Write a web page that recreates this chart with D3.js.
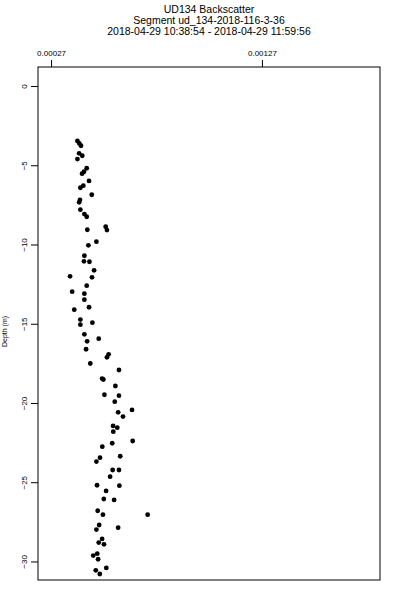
<!DOCTYPE html>
<html>
<head>
<meta charset="utf-8">
<script src="https://cdn.jsdelivr.net/npm/d3@7"></script>
<style>
  body { margin: 0; background: #fff; }
  svg { display: block; font-family: "Liberation Sans", Arial, Helvetica, sans-serif; }
</style>
</head>
<body>
<svg id="chart"></svg>
<script>
// backscatter value per sample
const backscatter = [
  0.000395, 0.000404, 0.000412, 0.000403, 0.000418, 0.000395, 0.000439, 0.000426,
  0.000417, 0.000450, 0.000423, 0.000409, 0.000463, 0.000407, 0.000403, 0.000409,
  0.000428, 0.000439, 0.000529, 0.000535, 0.000442, 0.000485, 0.000447, 0.000428,
  0.000426, 0.000452, 0.000474, 0.000360, 0.000464, 0.000439, 0.000370, 0.000428,
  0.000428, 0.000450, 0.000380, 0.000409, 0.000409, 0.000466, 0.000428, 0.000496,
  0.000441, 0.000436, 0.000543, 0.000535, 0.000456, 0.000592, 0.000512, 0.000518,
  0.000575, 0.000523, 0.000592, 0.000572, 0.000654, 0.000588, 0.000611, 0.000564,
  0.000584, 0.000565, 0.000657, 0.000560, 0.000513, 0.000598, 0.000502, 0.000485,
  0.000562, 0.000592, 0.000550, 0.000488, 0.000594, 0.000531, 0.000520, 0.000569,
  0.000491, 0.000516, 0.000728, 0.000498, 0.000485, 0.000588, 0.000512, 0.000496,
  0.000521, 0.000489, 0.000470, 0.000493, 0.000482, 0.000532, 0.000501
];
// depth (m) per sample
const depth = [
  -3.47, -3.62, -3.77, -4.25, -4.40, -4.61, -5.19, -5.41,
  -5.53, -5.99, -6.29, -6.42, -6.86, -7.19, -7.34, -7.80,
  -8.08, -8.25, -8.88, -9.09, -9.07, -9.82, -10.05, -10.71,
  -11.06, -11.09, -11.63, -12.01, -12.07, -12.60, -12.98, -13.10,
  -13.48, -13.96, -14.11, -14.74, -15.06, -14.93, -15.67, -15.94,
  -16.11, -16.61, -16.93, -17.12, -17.51, -17.92, -18.46, -18.52,
  -18.93, -19.48, -19.54, -19.92, -20.44, -20.59, -20.86, -21.45,
  -21.56, -21.81, -22.40, -22.54, -22.76, -23.36, -23.45, -23.70,
  -24.23, -24.23, -24.65, -25.19, -25.22, -25.55, -26.06, -26.12,
  -26.80, -27.05, -27.05, -27.70, -27.99, -27.87, -28.58, -28.81,
  -28.92, -29.51, -29.63, -29.86, -30.56, -30.41, -30.79
];
const xTicks = [0.00027, 0.00127];
const xTickLabels = ["0.00027", "0.00127"];
const yTicks = [0, -5, -10, -15, -20, -25, -30];
const titleLines = [
  "UD134 Backscatter",
  "Segment ud_134-2018-116-3-36",
  "2018-04-29 10:38:54 - 2018-04-29 11:59:56"
];

const width = 400, height = 600;
const margin = {top: 67, right: 20, bottom: 20, left: 38};
const svg = d3.select("#chart").attr("width", width).attr("height", height);

const x = d3.scaleLinear()
  .domain([0.000208, 0.00183])
  .range([margin.left, width - margin.right]);
const y = d3.scaleLinear()
  .domain([1.2, -31.17])
  .range([margin.top, height - margin.bottom]);

// titles
svg.append("g")
  .selectAll("text")
  .data(titleLines).enter()
  .append("text")
  .attr("x", (margin.left + width - margin.right) / 2)
  .attr("y", (d, i) => 13 + i * 11)
  .attr("text-anchor", "middle")
  .attr("font-size", "10.5px")
  .text(d => d);

// top axis
const xAxis = d3.axisTop(x)
  .tickValues(xTicks)
  .tickSize(7)
  .tickPadding(4)
  .tickFormat((d, i) => xTickLabels[i]);
const gx = svg.append("g")
  .attr("transform", `translate(0,${margin.top})`)
  .call(xAxis);
gx.select(".domain").remove();
gx.selectAll("text").attr("font-size", "8px").attr("font-family", null).attr("fill", "#000");

// left axis, labels parallel to axis
const yAxis = d3.axisLeft(y).tickValues(yTicks).tickSize(7);
const gy = svg.append("g")
  .attr("transform", `translate(${margin.left},0)`)
  .call(yAxis);
gy.select(".domain").remove();
gy.selectAll("text")
  .attr("font-size", "8px")
  .attr("font-family", null)
  .attr("fill", "#000")
  .attr("transform", "rotate(-90)")
  .attr("text-anchor", "middle")
  .attr("x", 0)
  .attr("y", -11.5)
  .attr("dy", 0);

// y label
svg.append("text")
  .attr("transform", `translate(7,${(margin.top + height - margin.bottom) / 2 + 8}) rotate(-90)`)
  .attr("text-anchor", "middle")
  .attr("font-size", "7px")
  .text("Depth (m)");

// box
svg.append("rect")
  .attr("x", margin.left)
  .attr("y", margin.top)
  .attr("width", width - margin.right - margin.left)
  .attr("height", height - margin.bottom - margin.top)
  .attr("fill", "none")
  .attr("stroke", "#000")
  .attr("stroke-width", 1);

// points
svg.append("g")
  .selectAll("circle")
  .data(backscatter).enter()
  .append("circle")
  .attr("cx", d => x(d))
  .attr("cy", (d, i) => y(depth[i]))
  .attr("r", 2.4)
  .attr("fill", "#000");
</script>
</body>
</html>
